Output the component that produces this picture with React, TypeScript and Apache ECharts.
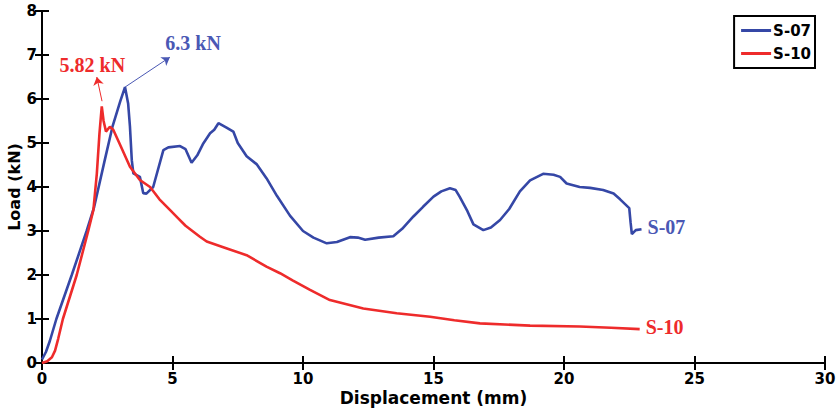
import React, { useEffect, useRef } from "react";
import * as echarts from "echarts";

const s07: [number, number][] = [
  [0, 0.08], [0.15, 0.25], [0.3, 0.5], [0.55, 1.0], [1.14, 2.0], [1.71, 3.0], [2.0, 3.55], [2.4, 4.6],
  [2.7, 5.37], [3.0, 5.95], [3.18, 6.27], [3.3, 5.9], [3.37, 5.37], [3.44, 4.61], [3.5, 4.31], [3.75, 4.23],
  [3.88, 3.86], [4.0, 3.85], [4.26, 4.0], [4.65, 4.84], [4.84, 4.9], [5.29, 4.93],
  [5.5, 4.86], [5.73, 4.55], [5.95, 4.72], [6.18, 4.99], [6.44, 5.22], [6.6, 5.3], [6.76, 5.45], [7.07, 5.35],
  [7.33, 5.26], [7.5, 5.0], [7.84, 4.7], [8.22, 4.52], [8.6, 4.2], [9.0, 3.8], [9.5, 3.35], [10.0, 3.0],
  [10.4, 2.85], [10.91, 2.72], [11.3, 2.75], [11.8, 2.86], [12.1, 2.85], [12.38, 2.8], [12.9, 2.85],
  [13.46, 2.88], [13.8, 3.05], [14.23, 3.33], [14.6, 3.55], [15.0, 3.78], [15.3, 3.9], [15.63, 3.97],
  [15.85, 3.93], [16.0, 3.78], [16.3, 3.45], [16.53, 3.15], [16.91, 3.02], [17.2, 3.08], [17.55, 3.25],
  [17.9, 3.5], [18.31, 3.9], [18.7, 4.15], [19.2, 4.3], [19.6, 4.28], [19.85, 4.23], [20.1, 4.08],
  [20.6, 4.0], [21.0, 3.98], [21.5, 3.93], [21.9, 3.85], [22.15, 3.72], [22.5, 3.52], [22.55, 3.2],
  [22.6, 2.93], [22.75, 3.02], [22.97, 3.04],
];

const s10: [number, number][] = [
  [0, 0], [0.2, 0.04], [0.38, 0.13], [0.5, 0.28], [0.62, 0.55], [0.8, 1.0], [1.33, 2.0], [1.77, 3.0], [1.97, 3.48],
  [2.1, 4.3], [2.2, 5.2], [2.29, 5.83], [2.36, 5.5], [2.41, 5.37], [2.45, 5.26], [2.6, 5.37], [2.73, 5.3],
  [3.0, 4.95], [3.37, 4.46], [3.75, 4.16], [4.14, 4.0], [4.5, 3.72], [4.9, 3.48], [5.2, 3.3],
  [5.5, 3.12], [6.05, 2.87], [6.31, 2.76], [7.0, 2.62], [7.84, 2.45], [8.6, 2.19], [9.12, 2.04],
  [9.6, 1.88], [10.27, 1.66], [11.03, 1.43], [12.31, 1.24], [13.59, 1.13], [14.87, 1.05], [15.8, 0.97],
  [16.78, 0.9], [18.7, 0.85], [20.6, 0.83], [21.8, 0.8], [22.9, 0.77],
];

const seriesNames = ["S-07", "S-10"];
const peakLabels = ["6.3 kN", "5.82 kN"];
const peakPoints: [number, number][] = [[3.18, 6.27], [2.3, 5.95]];
const arrowEnds: [number, number][] = [[4.9, 6.95], [2.1, 6.5]];
const labelPos: [number, number][] = [[5.79, 7.27], [1.93, 6.77]];

const BLUE = "#3547A6";
const RED = "#EE2B2B";
const BLUE_TXT = "#4A58B4";
const SANS = "DejaVu Sans";
const SERIF = "Liberation Serif";

export default function App() {
  const ref = useRef<HTMLDivElement>(null);
  useEffect(() => {
    const chart = echarts.init(ref.current!, null, { renderer: "svg" });
    const colors = [BLUE, RED];
    const txtColors = [BLUE_TXT, RED];
    const datas = [s07, s10];
    const axisLine = { show: true, lineStyle: { color: "#000", width: 2 } };
    const axisTick = { show: true, inside: true, length: 7, lineStyle: { color: "#000", width: 2 } };
    const labelStyle = { fontFamily: SANS, fontWeight: "bold" as const, fontSize: 15, color: "#000" };
    chart.setOption({
      animation: false,
      backgroundColor: "#fff",
      grid: { left: 42, right: 12, top: 11, bottom: 50, containLabel: false, outerBoundsMode: "none" },
      legend: {
        right: 22,
        top: 16,
        orient: "vertical",
        data: seriesNames,
        icon: "rect",
        itemWidth: 30,
        itemHeight: 3,
        itemGap: 8,
        padding: [7, 4, 7, 7],
        borderColor: "#000",
        borderWidth: 2,
        backgroundColor: "#fff",
        textStyle: { ...labelStyle, padding: [0, 0, 0, -3] },
      },
      xAxis: [
        {
          type: "value", min: 0, max: 30, interval: 5, position: "bottom",
          name: "Displacement (mm)", nameLocation: "middle", nameGap: 26, nameMoveOverlap: false,
          nameTextStyle: { fontFamily: SANS, fontWeight: "bold", fontSize: 17, color: "#000" },
          axisLine, axisTick, splitLine: { show: false },
          axisLabel: { ...labelStyle, margin: 8 },
        },
        {
          type: "value", min: 0, max: 30, interval: 5, position: "top",
          axisLine, axisTick, splitLine: { show: false }, axisLabel: { show: false },
        },
      ],
      yAxis: [
        {
          type: "value", min: 0, max: 8, interval: 1, position: "left",
          name: "Load (kN)", nameLocation: "middle", nameGap: 20, nameMoveOverlap: false,
          nameTextStyle: { fontFamily: SANS, fontWeight: "bold", fontSize: 16, color: "#000" },
          axisLine, axisTick, splitLine: { show: false },
          axisLabel: { ...labelStyle, margin: 5 },
        },
        {
          type: "value", min: 0, max: 8, interval: 1, position: "right",
          axisLine, axisTick, splitLine: { show: false }, axisLabel: { show: false },
        },
      ],
      series: seriesNames.map((name, i) => ({
        name,
        type: "line",
        data: datas[i],
        showSymbol: false,
        symbol: "none",
        smooth: false,
        z: i === 0 ? 2 : 3,
        lineStyle: { color: colors[i], width: 2.6 },
        itemStyle: { color: colors[i] },
        endLabel: {
          show: true,
          formatter: name,
          distance: 6,
          offset: [0, -2],
          color: txtColors[i],
          fontFamily: SERIF,
          fontWeight: "bold",
          fontSize: 20,
        },
        markLine: {
          silent: true,
          symbol: ["none", "arrow"],
          symbolSize: 8,
          label: { show: false },
          lineStyle: { color: txtColors[i], width: 1, type: "solid" },
          data: [[{ coord: peakPoints[i] }, { coord: arrowEnds[i] }]],
        },
        markPoint: {
          silent: true,
          symbol: "circle",
          symbolSize: 0,
          data: [{ coord: labelPos[i], value: peakLabels[i] }],
          label: {
            show: true,
            position: "inside",
            formatter: peakLabels[i],
            color: txtColors[i],
            fontFamily: SERIF,
            fontWeight: "bold",
            fontSize: 20,
          },
        },
      })),
    });
    return () => chart.dispose();
  }, []);
  return (
    <div
      ref={ref}
      style={{ position: "absolute", left: 0, top: 0, width: 837, height: 413 }}
    />
  );
}
